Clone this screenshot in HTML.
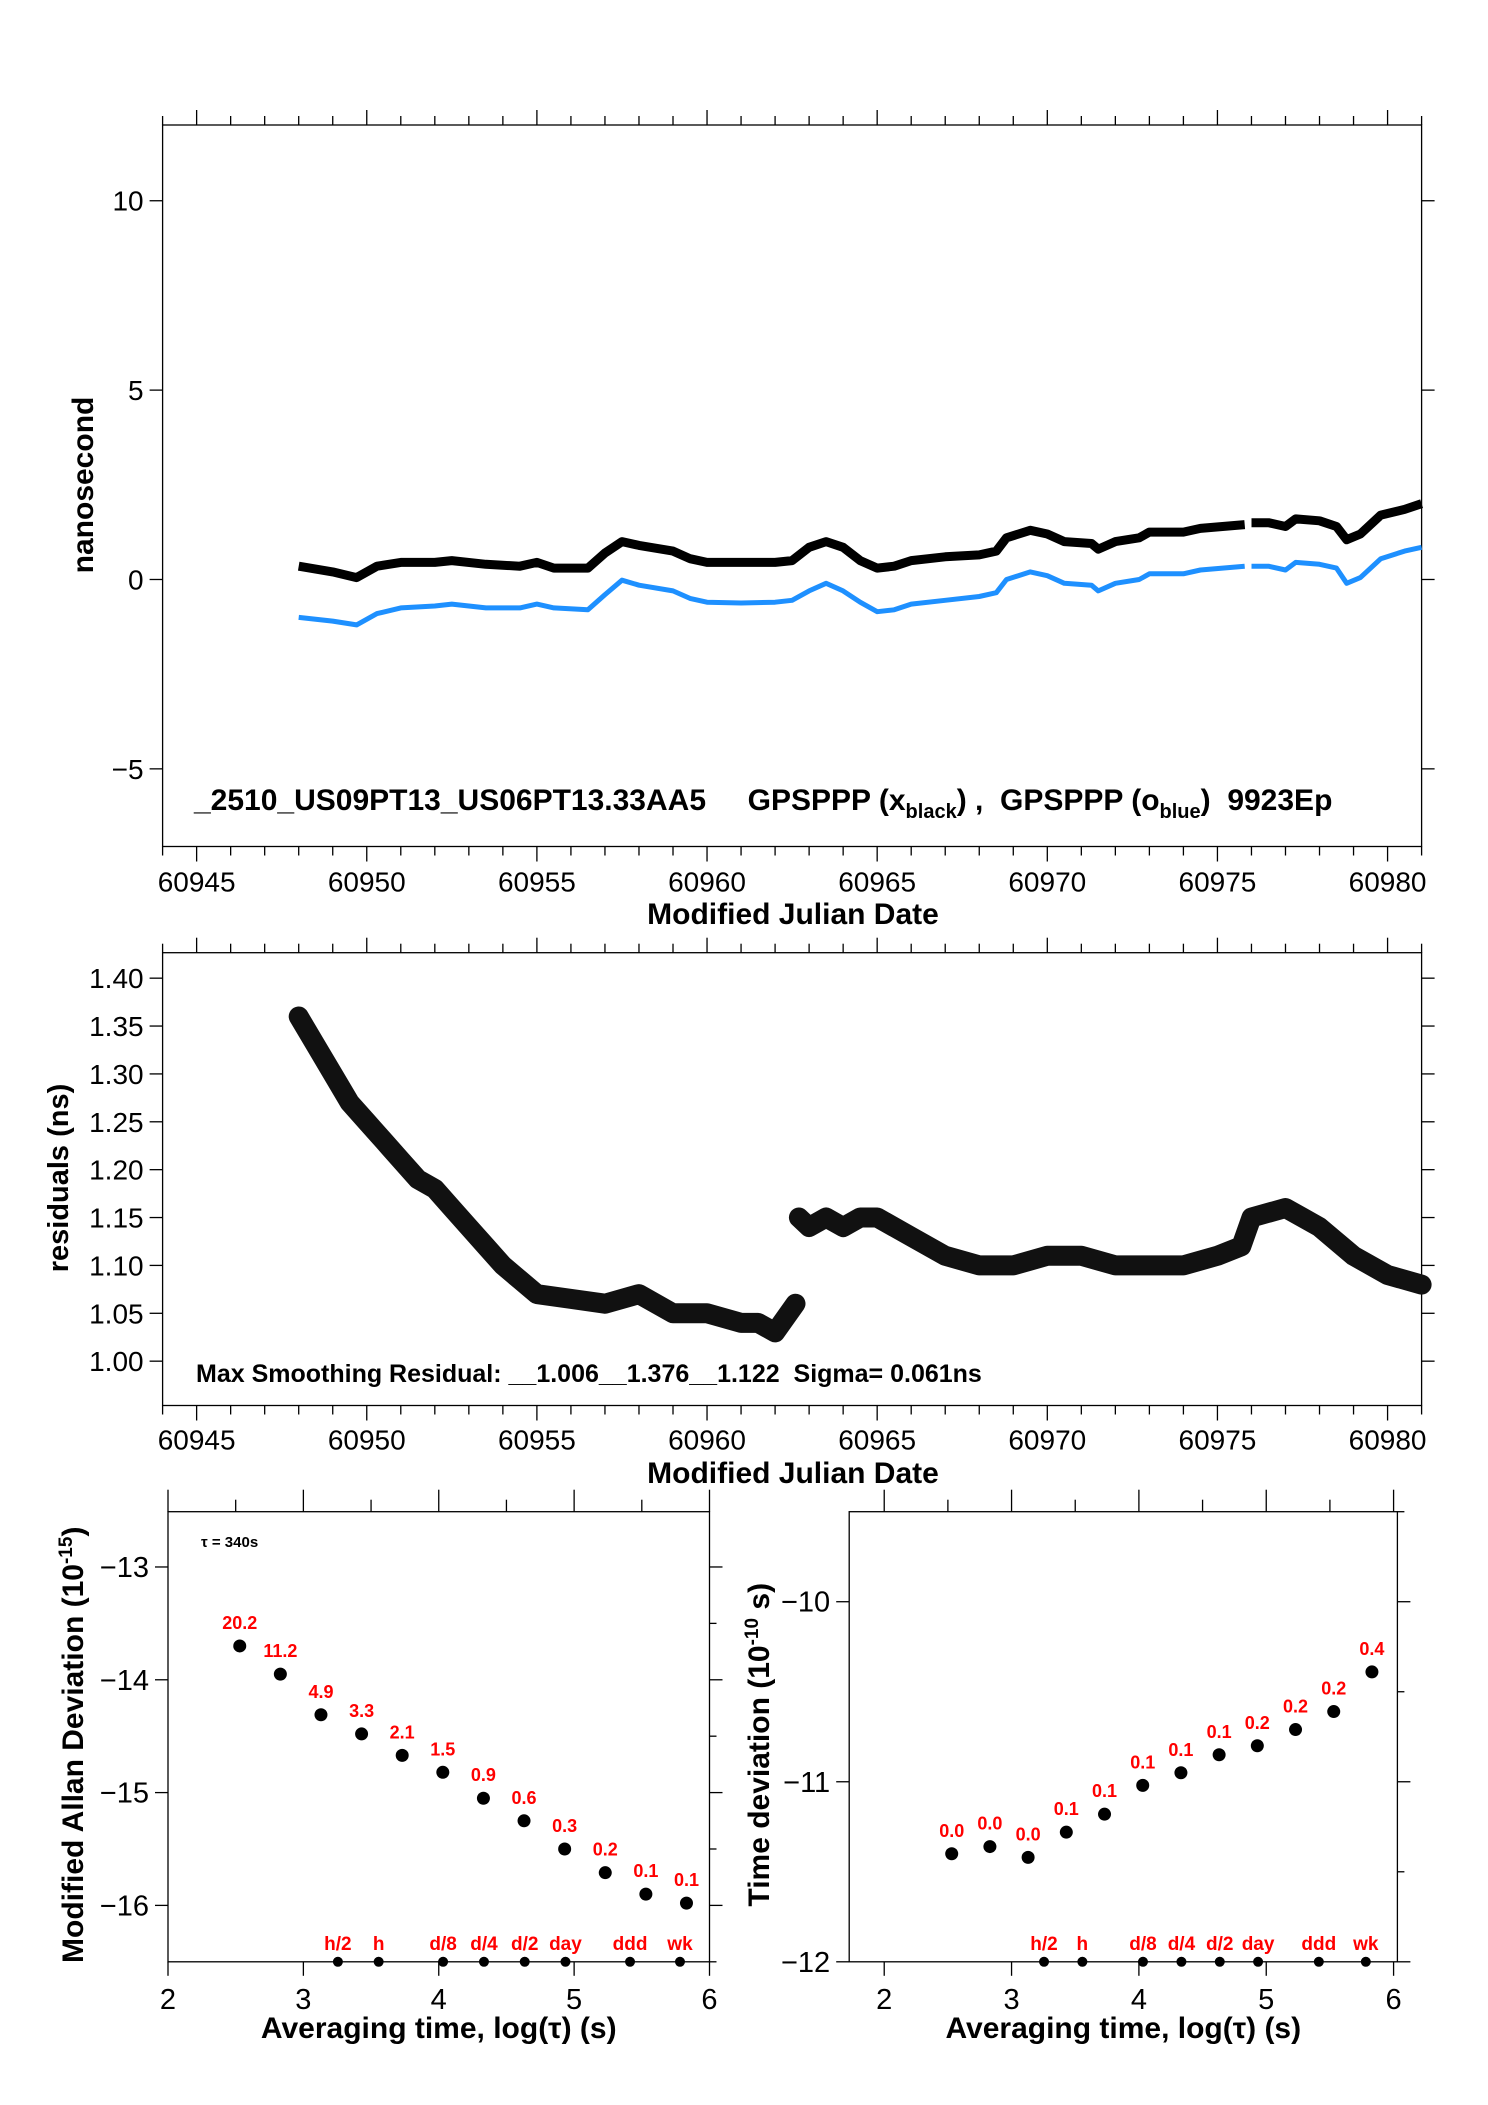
<!DOCTYPE html>
<html><head><meta charset="utf-8"><style>
html,body{margin:0;padding:0;background:#fff;}
svg{display:block;font-family:"Liberation Sans",sans-serif;}
</style></head><body>
<svg id="chart" width="1488" height="2105" viewBox="0 0 1488 2105" xmlns="http://www.w3.org/2000/svg"></svg>
<script>
// ---- Top panel data ----
const mjdBlack = [60948,60949,60949.7,60950.3,60951,60952,60952.5,60953.5,60954.5,60955,60955.5,60956.5,60957,60957.5,60958,60959,60959.5,60960,60961,60962,60962.5,60963,60963.5,60964,60964.5,60965,60965.5,60966,60967,60968,60968.5,60968.8,60969.5,60970,60970.5,60971.3,60971.5,60972,60972.7,60973,60974,60974.5,60975.8,null,60976,60976.5,60977,60977.3,60978,60978.5,60978.8,60979.2,60979.8,60980.5,60981];
const nsBlack = [0.35,0.2,0.05,0.35,0.45,0.45,0.5,0.4,0.35,0.45,0.3,0.3,0.7,1.0,0.9,0.75,0.55,0.45,0.45,0.45,0.5,0.85,1.0,0.85,0.5,0.3,0.35,0.5,0.6,0.65,0.75,1.1,1.3,1.2,1.0,0.95,0.8,1.0,1.1,1.25,1.25,1.35,1.45,null,1.5,1.5,1.4,1.6,1.55,1.4,1.05,1.2,1.7,1.85,2.0];
const nsBlue = [-1.0,-1.1,-1.2,-0.9,-0.75,-0.7,-0.65,-0.75,-0.75,-0.65,-0.75,-0.8,-0.4,-0.02,-0.15,-0.3,-0.5,-0.6,-0.62,-0.6,-0.55,-0.3,-0.1,-0.3,-0.6,-0.85,-0.8,-0.65,-0.55,-0.45,-0.35,0.0,0.2,0.1,-0.1,-0.15,-0.3,-0.1,0.0,0.15,0.15,0.25,0.35,null,0.35,0.35,0.25,0.45,0.4,0.3,-0.1,0.05,0.55,0.75,0.85];
const mjdTicks = [60945,60950,60955,60960,60965,60970,60975,60980];
const nsTicks = [-5,0,5,10];
// ---- Residual panel data ----
const mjdResid = [60948,60948.5,60949,60949.5,60950,60950.5,60951,60951.5,60952,60952.5,60953,60953.5,60954,60954.5,60955,60956,60957,60958,60959,60960,60961,60961.5,60962,60962.6,null,60962.7,60963,60963.5,60964,60964.5,60965,60966,60967,60968,60969,60970,60971,60972,60973,60974,60975,60975.7,60976,60977,60977.5,60978,60979,60980,60981];
const residVals = [1.36,1.33,1.30,1.27,1.25,1.23,1.21,1.19,1.18,1.16,1.14,1.12,1.10,1.085,1.07,1.065,1.06,1.07,1.05,1.05,1.04,1.04,1.03,1.06,null,1.15,1.14,1.15,1.14,1.15,1.15,1.13,1.11,1.10,1.10,1.11,1.11,1.10,1.10,1.10,1.11,1.12,1.15,1.16,1.15,1.14,1.11,1.09,1.08];
const residTicks = [1.00,1.05,1.10,1.15,1.20,1.25,1.30,1.35,1.40];
// ---- Allan / time deviation data ----
const logTau = [2.53,2.83,3.13,3.43,3.73,4.03,4.33,4.63,4.93,5.23,5.53,5.83];
const madev = [-13.7,-13.95,-14.31,-14.48,-14.67,-14.82,-15.05,-15.25,-15.5,-15.71,-15.9,-15.98];
const madevLabels = ["20.2","11.2","4.9","3.3","2.1","1.5","0.9","0.6","0.3","0.2","0.1","0.1"];
const tdev = [-11.4,-11.36,-11.42,-11.28,-11.18,-11.02,-10.95,-10.85,-10.8,-10.71,-10.61,-10.39];
const tdevLabels = ["0.0","0.0","0.0","0.1","0.1","0.1","0.1","0.1","0.2","0.2","0.2","0.4"];
const markerNames = ["h/2","h","d/8","d/4","d/2","day","ddd","wk"];
const markerLog = [3.255,3.556,4.032,4.334,4.635,4.936,5.413,5.782];
const tauTicks = [2,3,4,5,6];
const madevTicks = [-16,-15,-14,-13];
const tdevTicks = [-12,-11,-10];

const NS="http://www.w3.org/2000/svg";
const svg=document.getElementById('chart');
function el(tag,attrs,parent){const e=document.createElementNS(NS,tag);for(const k in attrs)e.setAttribute(k,attrs[k]);(parent||svg).appendChild(e);return e;}
function txt(s,attrs,parent){const e=el('text',attrs,parent);e.textContent=s;return e;}
function lin(d0,d1,r0,r1){return v=>r0+(v-d0)*(r1-r0)/(d1-d0);}
function pathFrom(xs,ys,X,Y){let d='',pen=false;for(let i=0;i<xs.length;i++){if(xs[i]===null){pen=false;continue;}d+=(pen?'L':'M')+X(xs[i]).toFixed(1)+' '+Y(ys[i]).toFixed(1);pen=true;}return d;}

// ===== Panel 1 =====
{
const L=162.6,R=1421.6,T=125,B=846.5;
const X=lin(60944,60981,L,R), Y=lin(-7.05,12,B,T);
const g=el('g',{});


const fr=el('rect',{x:L,y:T,width:R-L,height:B-T,fill:'none',stroke:'#000','stroke-width':1.3},g);


for(let d=60944;d<=60981;d++){const x=X(d);const big=(d%5===0);
 el('line',{x1:x,y1:T,x2:x,y2:T-(big?15:9),stroke:'#000','stroke-width':1.3},g);
 el('line',{x1:x,y1:B,x2:x,y2:B+(big?15:9),stroke:'#000','stroke-width':1.3},g);}
mjdTicks.forEach(v=>{const t=txt(String(v),{x:X(v),y:B+45,'font-size':28,'text-anchor':'middle'},g);
 
 });
nsTicks.forEach(v=>{const y=Y(v);
 el('line',{x1:L-13,y1:y,x2:L,y2:y,stroke:'#000','stroke-width':1.3},g);
 el('line',{x1:R,y1:y,x2:R+13,y2:y,stroke:'#000','stroke-width':1.3},g);
 const t=txt(v<0?'\u2212'+(-v):String(v),{x:L-19,y:y+10,'font-size':28,'text-anchor':'end'},g);
 
 });
const pb=el('path',{d:pathFrom(mjdBlack,nsBlack,X,Y),fill:'none',stroke:'#000','stroke-width':9,'stroke-linejoin':'round'},g);


const pu=el('path',{d:pathFrom(mjdBlack,nsBlue,X,Y),fill:'none',stroke:'#1e90ff','stroke-width':5,'stroke-linejoin':'round'},g);


const yt=txt('nanosecond',{x:0,y:0,'font-size':30,'font-weight':'bold','text-anchor':'middle',transform:'translate(93,485) rotate(-90)'},g);


const xt=txt('Modified Julian Date',{x:793,y:924,'font-size':30,'font-weight':'bold','text-anchor':'middle'},g);


const lg=el('text',{x:194,y:810,'font-size':30,'font-weight':'bold'},g);


lg.innerHTML='_2510_US09PT13_US06PT13.33AA5\u00a0\u00a0\u00a0\u00a0 GPSPPP (x<tspan font-size="20" dy="8">black</tspan><tspan dy="-8">) ,\u00a0 GPSPPP (o</tspan><tspan font-size="20" dy="8">blue</tspan><tspan dy="-8">)\u00a0 9923Ep</tspan>';
}

// ===== Panel 2 =====
{
const L=162.6,R=1421.6,T=952.7,B=1405.5;
const X=lin(60944,60981,L,R), Y=lin(0.9537,1.4266,B,T);
const g=el('g',{});


const fr=el('rect',{x:L,y:T,width:R-L,height:B-T,fill:'none',stroke:'#000','stroke-width':1.3},g);


for(let d=60944;d<=60981;d++){const x=X(d);const big=(d%5===0);
 el('line',{x1:x,y1:T,x2:x,y2:T-(big?15:9),stroke:'#000','stroke-width':1.3},g);
 el('line',{x1:x,y1:B,x2:x,y2:B+(big?15:9),stroke:'#000','stroke-width':1.3},g);}
mjdTicks.forEach(v=>{const t=txt(String(v),{x:X(v),y:B+44,'font-size':28,'text-anchor':'middle'},g);
 
 });
residTicks.forEach(v=>{const y=Y(v);
 el('line',{x1:L-13,y1:y,x2:L,y2:y,stroke:'#000','stroke-width':1.3},g);
 el('line',{x1:R,y1:y,x2:R+13,y2:y,stroke:'#000','stroke-width':1.3},g);
 const t=txt(v.toFixed(2),{x:L-19,y:y+10,'font-size':28,'text-anchor':'end'},g);
 
 });
const pr=el('path',{d:pathFrom(mjdResid,residVals,X,Y),fill:'none',stroke:'#111','stroke-width':20,'stroke-linejoin':'round','stroke-linecap':'round'},g);


const yt=txt('residuals (ns)',{x:0,y:0,'font-size':29,'font-weight':'bold','text-anchor':'middle',transform:'translate(68,1178) rotate(-90)'},g);


const xt=txt('Modified Julian Date',{x:793,y:1483,'font-size':30,'font-weight':'bold','text-anchor':'middle'},g);


const st=txt('Max Smoothing Residual: __1.006__1.376__1.122\u00a0 Sigma= 0.061ns',{x:196,y:1382,'font-size':25,'font-weight':'bold'},g);


}

// ===== Bottom panels =====
function devPanel(o){
const {L,R,T,B,x0,x1,y0,y1,vals,labels,yTicks,name,title,titleX}=o;
const X=lin(x0,x1,L,R), Y=lin(y0,y1,B,T);
const g=el('g',{});


const fr=el('rect',{x:L,y:T,width:R-L,height:B-T,fill:'none',stroke:'#000','stroke-width':1.3},g);


for(let v=2;v<=6.001;v+=0.5){const x=X(v);const big=Math.abs(v-Math.round(v))<1e-6;
 el('line',{x1:x,y1:T,x2:x,y2:T-(big?22:12),stroke:'#000','stroke-width':1.3},g);
 if(big) el('line',{x1:x,y1:B,x2:x,y2:B+14,stroke:'#000','stroke-width':1.3},g);}
tauTicks.forEach(v=>{const t=txt(String(v),{x:X(v),y:B+47,'font-size':29,'text-anchor':'middle'},g);
 
 });
for(let v=Math.ceil(y0*2)/2;v<=y1+1e-6;v+=0.5){const y=Y(v);const big=Math.abs(v-Math.round(v))<1e-6;
 el('line',{x1:R,y1:y,x2:R+(big?13:7),y2:y,stroke:'#000','stroke-width':1.3},g);}
yTicks.forEach(v=>{const y=Y(v);
 el('line',{x1:L-13,y1:y,x2:L,y2:y,stroke:'#000','stroke-width':1.3},g);
 const t=txt('\u2212'+(-v),{x:L-19,y:y+10,'font-size':29,'text-anchor':'end'},g);
 
 });
logTau.forEach((lt,i)=>{
 const c=el('circle',{cx:X(lt),cy:Y(vals[i]),r:6.5,fill:'#000'},g);
 
 
 const t=txt(labels[i],{x:X(lt),y:Y(vals[i])-17,'font-size':18,'font-weight':'bold',fill:'#ff0000','text-anchor':'middle'},g);
 
 });
markerLog.forEach((lt,i)=>{
 const c=el('circle',{cx:X(lt),cy:B,r:5,fill:'#000'},g);
 
 
 const t=txt(markerNames[i],{x:X(lt),y:B-12,'font-size':19,'font-weight':'bold',fill:'#ff0000','text-anchor':'middle'},g);
 
 });
const xt=txt('Averaging time, log(\u03c4) (s)',{x:(L+R)/2,y:B+76,'font-size':30,'font-weight':'bold','text-anchor':'middle'},g);


const yt=el('text',{x:0,y:0,'font-size':30,'font-weight':'bold','text-anchor':'middle',transform:'translate('+titleX+','+((T+B)/2+8)+') rotate(-90)'},g);


yt.innerHTML=title;
return g;
}
devPanel({L:168,R:709.5,T:1511.7,B:1961.8,x0:2,x1:6,y0:-16.5,y1:-12.51,vals:madev,labels:madevLabels,yTicks:madevTicks,name:'modified-allan-deviation-panel',titleX:83,
 title:'Modified Allan Deviation (10<tspan font-size="19" dy="-11">-15</tspan><tspan dy="11">)</tspan>'});
devPanel({L:849.2,R:1397.4,T:1511.7,B:1961.8,x0:1.725,x1:6.03,y0:-12,y1:-9.5,vals:tdev,labels:tdevLabels,yTicks:tdevTicks,name:'time-deviation-panel',titleX:769,
 title:'Time deviation (10<tspan font-size="19" dy="-11">-10</tspan><tspan dy="11"> s)</tspan>'});
const tau=txt('\u03c4 = 340s',{x:201,y:1547,'font-size':15,'font-weight':'bold'});


</script>
</body></html>
